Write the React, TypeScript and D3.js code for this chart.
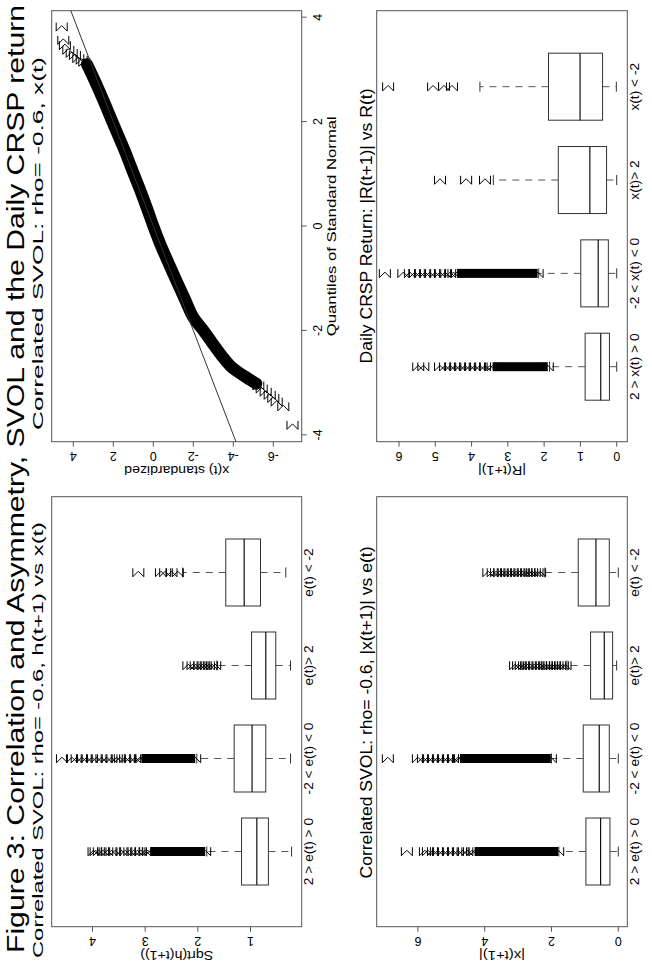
import { useEffect, useRef } from "react";
import * as d3 from "d3";

// The page is a landscape sheet (972 x 652) shown turned a quarter to the left.
const PAGE_W = 972;
const FONT = "'Liberation Sans', Arial, Helvetica, sans-serif";

const eGroups = ["2 > e(t) > 0", "-2 < e(t) < 0", "e(t)> 2", "e(t) < -2"];
const xGroups = ["2 > x(t) > 0", "-2 < x(t) < 0", "x(t)> 2", "x(t) < -2"];

// box stats: [lower whisker, Q1, median, Q3, upper whisker]
const hBoxes = [
  [0.22, 0.66, 0.88, 1.17, 1.83],
  [0.24, 0.71, 0.97, 1.31, 2.02],
  [0.24, 0.52, 0.71, 0.98, 1.64],
  [0.33, 0.81, 1.12, 1.47, 2.29],
];
// ranges where the outliers are so packed they print as a solid bar
const hDense = [[1.86, 2.9], [2.05, 3.07], null, null];
const hOutliers = [
  [2.95, 3.0, 3.08, 3.15, 3.22, 3.3, 3.38, 3.45, 3.57, 3.64, 3.72, 3.8, 3.88, 3.94, 3.98],
  [3.1, 3.19, 3.29, 3.38, 3.48, 3.54, 3.64, 3.73, 3.83, 3.92, 4.01, 4.11, 4.2, 4.3, 4.39, 4.58],
  [1.67, 1.73, 1.79, 1.85, 1.91, 1.97, 2.04, 2.1, 2.18],
  [2.38, 2.5, 2.62, 2.7, 3.13],
];

const absXBoxes = [
  [0.0, 0.25, 0.53, 0.97, 1.78],
  [0.0, 0.27, 0.57, 1.05, 2.0],
  [0.05, 0.17, 0.42, 0.83, 1.54],
  [0.0, 0.27, 0.67, 1.2, 2.2],
];
const absXDense = [[1.8, 4.3], [2.02, 4.74], null, null];
const absXOutliers = [
  [4.38, 4.52, 4.66, 4.8, 4.95, 5.1, 5.25, 5.4, 5.55, 5.7, 5.79, 6.33],
  [4.8, 4.95, 5.1, 5.25, 5.4, 5.55, 5.7, 5.85, 6.0, 6.9],
  [1.58, 1.66, 1.74, 1.82, 1.9, 1.98, 2.06, 2.14, 2.22, 2.32, 2.42, 2.52, 2.62, 2.72, 2.82, 2.92, 3.0, 3.09],
  [2.34, 2.42, 2.5, 2.58, 2.66, 2.76, 2.86, 2.96, 3.06, 3.16, 3.26, 3.36, 3.46, 3.56, 3.66, 3.76, 3.89],
];

const crspBoxes = [
  [0.0, 0.2, 0.44, 0.87, 1.85],
  [0.0, 0.23, 0.51, 0.99, 2.15],
  [0.0, 0.28, 0.74, 1.61, 3.4],
  [0.01, 0.39, 1.01, 1.88, 3.77],
];
const crspDense = [[1.9, 3.42], [2.18, 4.4], null, null];
const crspOutliers = [
  [3.49, 3.63, 3.77, 3.91, 4.04, 4.18, 4.32, 4.45, 4.59, 4.73, 4.87, 5.33, 5.47],
  [4.5, 4.59, 4.73, 4.87, 5.0, 5.15, 5.28, 5.42, 5.56, 5.7, 5.88, 6.39],
  [3.63, 4.15, 4.87],
  [4.54, 4.76, 5.06, 6.3],
];

// normal QQ plot: [theoretical quantile, standardized x(t)]
const qqBand: [number, number][] = [
  [-3.02, -5.15], [-2.9, -4.65], [-2.8, -4.25], [-2.7, -3.9], [-2.5, -3.45], [-2.24, -2.95],
  [-2.0, -2.5], [-1.75, -2.0], [-1.42, -1.6], [-1.0, -1.1], [-0.674, -0.72],
  [-0.3, -0.3], [0, 0], [0.3, 0.28], [0.674, 0.64], [1.0, 0.98], [1.46, 1.45],
  [2.0, 2.05], [2.41, 2.5], [2.8, 2.95], [3.1, 3.32],
];
const qqLowTail: [number, number][] = [
  [-3.815, -6.96], [-3.46, -6.5], [-3.37, -6.17], [-3.3, -6.0], [-3.24, -5.82],
  [-3.18, -5.62], [-3.12, -5.42], [-3.06, -5.25],
];
const qqHighTail: [number, number][] = [
  [3.815, 4.58], [3.56, 4.5], [3.46, 4.42], [3.37, 4.25], [3.31, 4.08],
  [3.27, 3.92], [3.21, 3.75], [3.18, 3.58], [3.14, 3.45],
];

const hTicks = [1, 2, 3, 4];
const qqYTicks = [-6, -4, -2, 0, 2, 4];
const qqXTicks = [-4, -2, 0, 2, 4];
const absXTicks = [0, 2, 4, 6];
const crspTicks = [0, 1, 2, 3, 4, 5, 6];

type G = d3.Selection<SVGGElement, unknown, null, undefined>;

function text(
  g: G, x: number, y: number, s: string, size: number,
  o: { anchor?: string; rot?: boolean; len?: number; stretch?: number } = {}
) {
  const t = g.append("text")
    .attr("x", x).attr("y", y)
    .attr("font-size", size)
    .attr("text-anchor", o.anchor ?? "middle")
    .attr("fill", "#000")
    .text(s);
  if (o.rot) t.attr("transform", `rotate(-90,${x},${y})`);
  if (o.len) t.attr("textLength", o.len).attr("lengthAdjust", "spacingAndGlyphs");
  else if (o.stretch) {
    const L = (t.node() as SVGTextElement).getComputedTextLength();
    t.attr("textLength", L * o.stretch).attr("lengthAdjust", "spacingAndGlyphs");
  }
  return t;
}

function sigma(g: G, u: number, v: number) {
  const w = 8.5, h = 11;
  g.append("path")
    .attr("d", `M${u + w / 2},${v - h / 2}H${u - w / 2}L${u + w * 0.15},${v}L${u - w / 2},${v + h / 2}H${u + w / 2}`)
    .attr("fill", "none").attr("stroke", "#000").attr("stroke-width", 1);
}

function frame(g: G, u0: number, u1: number, v0: number, v1: number) {
  g.append("rect")
    .attr("x", u0).attr("y", v0).attr("width", u1 - u0).attr("height", v1 - v0)
    .attr("fill", "none").attr("stroke", "#555").attr("stroke-width", 1);
}

function valueAxis(g: G, u0: number, val: d3.ScaleLinear<number, number>, ticks: number[], title: string, titleLen: number, v0: number, v1: number) {
  ticks.forEach(t => {
    g.append("line").attr("x1", u0).attr("x2", u0 - 5).attr("y1", val(t)).attr("y2", val(t))
      .attr("stroke", "#555");
    text(g, u0 - 10, val(t), String(t), 12.5, { rot: true });
  });
  text(g, u0 - 24, (v0 + v1) / 2, title, 13.5, { rot: true, len: titleLen });
}

interface BoxCfg {
  u0: number; u1: number; v0: number; v1: number;
  cat: d3.ScaleLinear<number, number>;
  val: d3.ScaleLinear<number, number>;
  ticks: number[]; labels: string[];
  boxes: number[][]; dense: (number[] | null)[]; outliers: number[][];
  yTitle: string; yTitleLen: number;
}

function boxPanel(g: G, c: BoxCfg) {
  const { u0, u1, v0, v1, cat, val } = c;
  frame(g, u0, u1, v0, v1);
  valueAxis(g, u0, val, c.ticks, c.yTitle, c.yTitleLen, v0, v1);
  const half = 33.5;
  c.labels.forEach((lab, i) => text(g, cat(i + 1), v1 + 11.5, lab, 12.5, { stretch: 1.1 }));
  c.boxes.forEach(([lo, q1, md, q3, hi], i) => {
    const x = cat(i + 1);
    // whiskers with staples
    [[q3, hi], [q1, lo]].forEach(([a, b]) => {
      g.append("line").attr("x1", x).attr("x2", x).attr("y1", val(a)).attr("y2", val(b))
        .attr("stroke", "#555").attr("stroke-dasharray", "7,6");
      g.append("line").attr("x1", x - 5).attr("x2", x + 5).attr("y1", val(b)).attr("y2", val(b))
        .attr("stroke", "#333");
    });
    g.append("rect")
      .attr("x", x - half).attr("width", 2 * half)
      .attr("y", val(q3)).attr("height", val(q1) - val(q3))
      .attr("fill", "#fff").attr("stroke", "#333");
    g.append("line").attr("x1", x - half).attr("x2", x + half).attr("y1", val(md)).attr("y2", val(md))
      .attr("stroke", "#111").attr("stroke-width", 1.2);
    const d = c.dense[i];
    if (d) {
      g.append("rect").attr("x", x - 4.5).attr("width", 9)
        .attr("y", val(d[1])).attr("height", val(d[0]) - val(d[1])).attr("fill", "#000");
      sigma(g, x, val(d[0]));
      sigma(g, x, val(d[1]));
    }
    c.outliers[i].forEach(o => sigma(g, x, val(o)));
  });
}

export default function App() {
  const ref = useRef<SVGGElement>(null);

  useEffect(() => {
    const g = d3.select(ref.current!) as unknown as G;
    g.selectAll("*").remove();

    // figure title and panel titles
    text(g, 19, 24, "Figure 3: Correlation and Asymmetry, SVOL and the Daily CRSP return", 23.5, { anchor: "start", len: 948 });
    text(g, 14, 43, "Correlated SVOL: rho= -0.6, h(t+1) vs  x(t)", 14, { anchor: "start", len: 436 });
    text(g, 542, 43, "Correlated SVOL: rho= -0.6, x(t)", 14, { anchor: "start", len: 373 });
    text(g, 259.5, 371.5, "Correlated SVOL: rho= -0.6, |x(t+1)| vs  e(t)", 17, { len: 332 });
    text(g, 746, 371.5, "Daily CRSP Return: |R(t+1)| vs  R(t)", 17, { len: 275 });

    const catL = d3.scaleLinear().domain([1, 4]).range([120.5, 399.5]);
    const catR = d3.scaleLinear().domain([1, 4]).range([605.3, 885.3]);

    boxPanel(g, {
      u0: 45.3, u1: 475.3, v0: 51.7, v1: 301.7, cat: catL,
      val: d3.scaleLinear().domain([1, 4]).range([250.5, 92.5]),
      ticks: hTicks, labels: eGroups, boxes: hBoxes, dense: hDense, outliers: hOutliers,
      yTitle: "Sqrt(h(t+1))", yTitleLen: 73,
    });
    boxPanel(g, {
      u0: 45.3, u1: 475.3, v0: 376.7, v1: 627.3, cat: catL,
      val: d3.scaleLinear().domain([0, 6]).range([618.3, 417.9]),
      ticks: absXTicks, labels: eGroups, boxes: absXBoxes, dense: absXDense, outliers: absXOutliers,
      yTitle: "|x(t+1)|", yTitleLen: 46,
    });
    boxPanel(g, {
      u0: 530.3, u1: 961.3, v0: 376.7, v1: 627.3, cat: catR,
      val: d3.scaleLinear().domain([0, 6]).range([616.7, 399]),
      ticks: crspTicks, labels: xGroups, boxes: crspBoxes, dense: crspDense, outliers: crspOutliers,
      yTitle: "|R(t+1)|", yTitleLen: 48,
    });

    // QQ panel
    const u0 = 530.3, u1 = 961.3, v0 = 51.7, v1 = 301.7;
    const qx = d3.scaleLinear().domain([-4, 4]).range([537.2, 954.8]);
    const qy = d3.scaleLinear().domain([-6, 2]).range([273.3, 113.3]);
    frame(g, u0, u1, v0, v1);
    valueAxis(g, u0, qy, qqYTicks, "x(t) standardized", 105, v0, v1);
    qqXTicks.forEach(t => {
      g.append("line").attr("x1", qx(t)).attr("x2", qx(t)).attr("y1", v1).attr("y2", v1 + 5).attr("stroke", "#555");
      text(g, qx(t), v1 + 20, String(t), 12.5);
    });
    text(g, (u0 + u1) / 2, v1 + 34.5, "Quantiles of Standard Normal", 13.5, { len: 220 });

    g.append("clipPath").attr("id", "qqclip").append("rect")
      .attr("x", u0).attr("y", v0).attr("width", u1 - u0).attr("height", v1 - v0);
    const pg = g.append("g").attr("clip-path", "url(#qqclip)") as unknown as G;
    const line = d3.line<[number, number]>().x(d => qx(d[0])).y(d => qy(d[1])).curve(d3.curveCatmullRom);
    pg.append("path").datum(qqBand).attr("d", line)
      .attr("fill", "none").attr("stroke", "#000").attr("stroke-width", 12)
      .attr("stroke-linecap", "round").attr("stroke-linejoin", "round");
    [...qqLowTail, ...qqHighTail].forEach(([q, s]) => sigma(pg, qx(q), qy(s)));
    // reference line through the quartiles
    pg.append("line")
      .attr("x1", qx(-4.2)).attr("y1", qy(-4.2)).attr("x2", qx(4.2)).attr("y2", qy(4.2))
      .attr("stroke", "#333").attr("stroke-width", 1);
  }, []);

  return (
    <div style={{ position: "absolute", left: 0, top: 0 }}>
      <svg width={652} height={972} style={{ display: "block", background: "#fff" }}>
        <g ref={ref} transform={`translate(0,${PAGE_W}) rotate(-90)`} fontFamily={FONT} />
      </svg>
    </div>
  );
}
